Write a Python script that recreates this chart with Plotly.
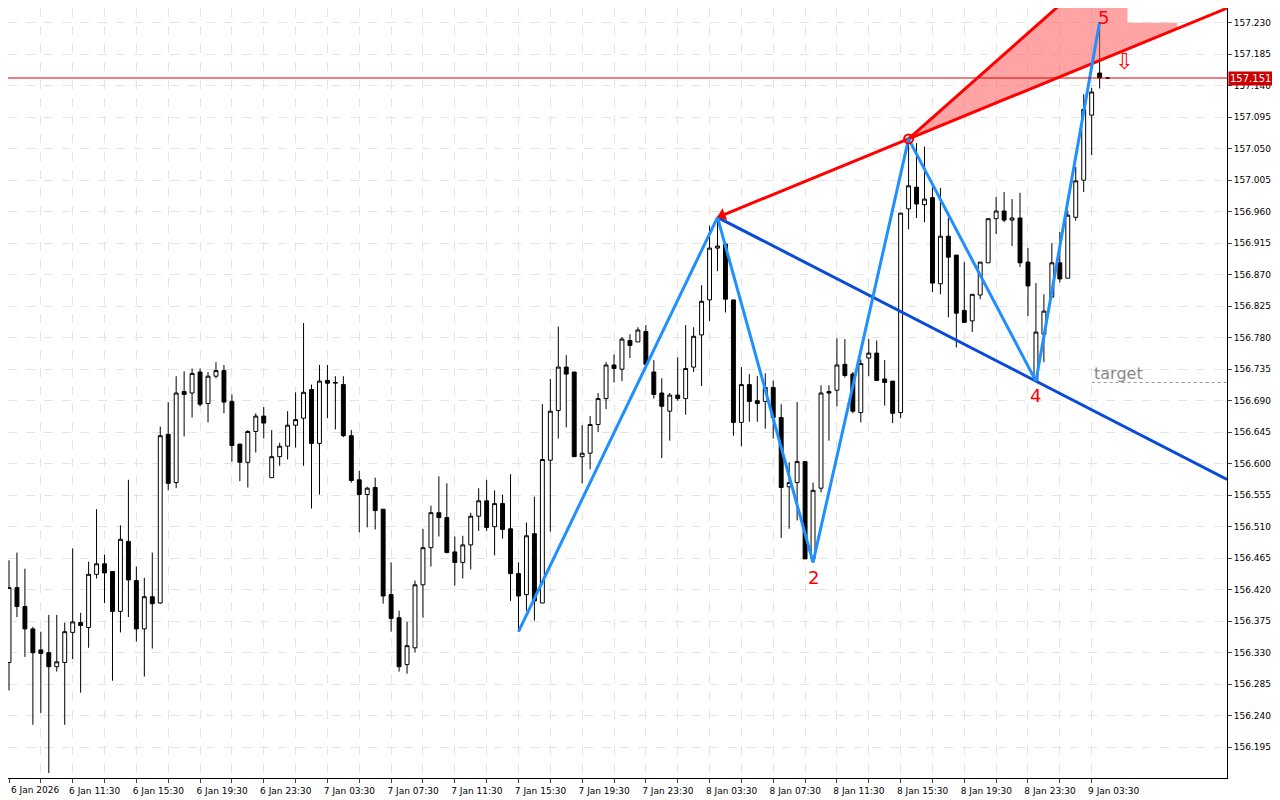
import plotly.graph_objects as go

bars = list(range(139))
opens = [156.316,156.423,156.396,156.364,156.334,156.330,156.310,156.316,156.359,156.373,
156.366,156.442,156.457,156.446,156.389,156.489,156.433,156.364,156.410,156.401,
156.642,156.573,156.703,156.701,156.731,156.686,156.725,156.733,156.689,156.628,
156.602,156.646,156.668,156.580,156.610,156.625,156.655,156.665,156.706,156.629,
156.719,156.715,156.713,156.640,156.577,156.556,156.566,156.535,156.413,156.380,
156.313,156.337,156.427,156.480,156.530,156.523,156.474,156.459,156.484,156.525,
156.547,156.510,156.543,156.507,156.443,156.413,156.500,156.401,156.605,156.676,
156.738,156.731,156.610,156.615,156.656,156.693,156.741,156.735,156.776,156.774,
156.789,156.731,156.701,156.675,156.698,156.693,156.738,156.784,156.834,156.908,
156.914,156.834,156.659,156.713,156.690,156.689,156.709,156.666,156.567,156.573,
156.603,156.464,156.565,156.703,156.705,156.742,156.728,156.673,156.751,156.758,
156.721,156.718,156.673,156.964,156.995,156.970,156.980,156.857,156.925,156.898,
156.819,156.804,156.841,156.887,156.950,156.961,156.948,156.951,156.888,156.719,
156.785,156.838,156.887,156.865,156.952,157.005,157.098,157.158,157.151]
highs = [156.462,156.473,156.450,156.367,156.360,156.384,156.384,156.373,156.479,156.387,
156.460,156.535,156.470,156.446,156.512,156.577,156.453,156.437,156.473,156.653,
156.688,156.725,156.732,156.736,156.736,156.731,156.745,156.741,156.699,156.628,
156.648,156.672,156.681,156.648,156.630,156.675,156.702,156.801,156.713,156.741,
156.741,156.725,156.725,156.648,156.590,156.567,156.580,156.535,156.459,156.390,
156.374,156.433,156.507,156.540,156.582,156.572,156.496,156.497,156.530,156.565,
156.577,156.562,156.556,156.585,156.459,156.516,156.553,156.685,156.721,156.796,
156.755,156.731,156.655,156.668,156.701,156.745,156.756,156.781,156.785,156.795,
156.798,156.748,156.722,156.701,156.752,156.798,156.795,156.855,156.940,156.952,
156.914,156.834,156.738,156.728,156.725,156.729,156.719,156.685,156.602,156.688,
156.603,156.573,156.712,156.712,156.779,156.778,156.731,156.749,156.778,156.776,
156.748,156.718,156.958,157.064,157.058,157.053,156.995,156.994,156.951,156.898,
156.888,156.842,156.888,156.950,156.981,156.988,156.978,156.987,156.908,156.858,
156.842,156.915,156.931,156.962,157.024,157.128,157.137,157.231,157.152]
lows = [156.276,156.381,156.324,156.227,156.244,156.158,156.303,156.227,156.321,156.273,
156.337,156.436,156.401,156.290,156.359,156.381,156.346,156.296,156.336,156.400,
156.562,156.565,156.639,156.666,156.682,156.659,156.722,156.672,156.603,156.575,
156.566,156.616,156.636,156.580,156.597,156.606,156.623,156.597,156.536,156.556,
156.665,156.649,156.638,156.573,156.502,156.509,156.506,156.400,156.360,156.303,
156.300,156.330,156.380,156.453,156.496,156.472,156.426,156.436,156.449,156.504,
156.504,156.469,156.493,156.404,156.360,156.390,156.376,156.401,156.503,156.636,
156.652,156.610,156.572,156.592,156.645,156.678,156.716,156.718,156.751,156.774,
156.742,156.693,156.608,156.633,156.690,156.670,156.731,156.711,156.804,156.875,
156.816,156.640,156.625,156.660,156.660,156.650,156.636,156.494,156.507,156.519,
156.464,156.459,156.559,156.633,156.682,156.723,156.672,156.659,156.725,156.718,
156.683,156.658,156.665,156.935,156.951,156.945,156.845,156.842,156.809,156.766,
156.801,156.788,156.835,156.887,156.928,156.945,156.911,156.881,156.811,156.719,
156.745,156.838,156.859,156.865,156.947,156.988,157.041,157.136,157.150]
closes = [156.423,156.396,156.364,156.330,156.329,156.310,156.317,156.360,156.374,156.369,
156.442,156.457,156.444,156.389,156.492,156.434,156.364,156.410,156.400,156.640,
156.572,156.701,156.699,156.729,156.685,156.725,156.733,156.688,156.626,156.602,
156.646,156.668,156.658,156.610,156.625,156.655,156.663,156.702,156.629,156.718,
156.715,156.716,156.640,156.576,156.556,156.565,156.533,156.411,156.379,156.310,
156.340,156.427,156.480,156.530,156.523,156.473,156.459,156.484,156.525,156.547,
156.509,156.543,156.506,156.443,156.411,156.497,156.404,156.606,156.675,156.738,
156.728,156.610,156.615,156.656,156.693,156.741,156.736,156.778,156.769,156.791,
156.742,156.699,156.682,156.698,156.693,156.736,156.782,156.832,156.908,156.911,
156.835,156.659,156.713,156.689,156.686,156.709,156.666,156.566,156.573,156.603,
156.464,156.562,156.701,156.701,156.741,156.726,156.675,156.743,156.758,156.719,
156.716,156.672,156.958,156.997,156.971,156.978,156.858,156.925,156.895,156.815,
156.802,156.842,156.888,156.950,156.961,156.948,156.951,156.887,156.854,156.788,
156.818,156.887,156.864,156.955,157.004,157.106,157.131,157.151,157.151]

tick_labels = ["6 Jan 2026","6 Jan 11:30","6 Jan 15:30","6 Jan 19:30","6 Jan 23:30",
"7 Jan 03:30","7 Jan 07:30","7 Jan 11:30","7 Jan 15:30","7 Jan 19:30","7 Jan 23:30",
"8 Jan 03:30","8 Jan 07:30","8 Jan 11:30","8 Jan 15:30","8 Jan 19:30","8 Jan 23:30","9 Jan 03:30"]
price_ticks = [156.195,156.240,156.285,156.330,156.375,156.420,156.465,156.510,156.555,156.600,
156.645,156.690,156.735,156.780,156.825,156.870,156.915,156.960,157.005,157.050,157.095,
157.140,157.185,157.230]

wave_bars = [64, 89, 101, 113, 129, 137]
wave_prices = [156.360, 156.952, 156.459, 157.064, 156.718, 157.231]
upper_fan_bars = [113, 140.5]
upper_fan_prices = [157.064, 157.341]
zone_bars = [113, 140.5, 140.5, 146.75, 146.75, 113]
zone_prices = [157.064, 157.341, 157.230, 157.230, 157.222, 157.064]
target_price = 156.716
current_price = 157.151
right_edge = 153.0

p1b, p1 = wave_bars[1], wave_prices[1]
p3b, p3 = wave_bars[3], wave_prices[3]
p4b, p4 = wave_bars[4], wave_prices[4]
red_end = p3 + (p3 - p1) / (p3b - p1b) * (right_edge - p3b)
blue_end = p4 + (p4 - p1) / (p4b - p1b) * (right_edge - p4b)

fig = go.Figure()
fig.add_trace(go.Scatter(x=zone_bars, y=zone_prices, fill="toself", mode="none",
                         fillcolor="rgba(255,90,90,0.55)", hoverinfo="skip"))
fig.add_trace(go.Candlestick(x=bars, open=opens, high=highs, low=lows, close=closes,
    increasing=dict(line=dict(color="black", width=1), fillcolor="white"),
    decreasing=dict(line=dict(color="black", width=1), fillcolor="black"),
    whiskerwidth=0))
fig.add_trace(go.Scatter(x=[p1b, right_edge], y=[p1, blue_end], mode="lines",
                         line=dict(color="#0a4ad8", width=3)))
fig.add_trace(go.Scatter(x=[p1b, right_edge], y=[p1, red_end], mode="lines",
                         line=dict(color="#ff0000", width=3)))
fig.add_trace(go.Scatter(x=upper_fan_bars, y=upper_fan_prices, mode="lines",
                         line=dict(color="#ff0000", width=3)))
fig.add_trace(go.Scatter(x=wave_bars, y=wave_prices, mode="lines",
                         line=dict(color="#1e90ff", width=3)))
fig.add_trace(go.Scatter(x=[p3b], y=[p3], mode="markers",
                         marker=dict(symbol="circle-open", size=9, color="red", line=dict(width=2))))
fig.add_trace(go.Scatter(x=[p1b + 0.6], y=[p1 + 0.003], mode="markers",
                         marker=dict(symbol="triangle-left", size=11, color="red", angle=-22)))
fig.add_trace(go.Scatter(x=[136, right_edge], y=[target_price, target_price], mode="lines",
                         line=dict(color="#999999", width=1, dash="dot")))

fig.add_hline(y=current_price, line=dict(color="#dd0000", width=1))

anns = [
    dict(x=101, y=wave_prices[2] - 0.021, text="2"),
    dict(x=129, y=wave_prices[4] - 0.021, text="4"),
    dict(x=137.5, y=wave_prices[5] + 0.006, text="5"),
]
for a in anns:
    fig.add_annotation(x=a["x"], y=a["y"], text=a["text"], showarrow=False,
                       font=dict(color="red", size=18, family="DejaVu Sans"))
fig.add_annotation(x=136, y=target_price + 0.013, text="target", showarrow=False, xanchor="left",
                   font=dict(color="#888888", size=16, family="DejaVu Sans"))
fig.add_annotation(x=140, y=157.174, text="⇩", showarrow=False,
                   font=dict(color="red", size=22, family="DejaVu Sans"))
fig.add_annotation(x=1.0, xref="paper", y=current_price, text="157.151", showarrow=False,
                   xanchor="left", bgcolor="#cc0000", borderpad=1, xshift=1,
                   font=dict(color="white", size=10, family="DejaVu Sans"))
fig.add_annotation(x=0, y=0, yref="paper", yanchor="top", xanchor="left", yshift=-5,
                   text=tick_labels[0], showarrow=False,
                   font=dict(size=9, family="DejaVu Sans", color="black"))

xt = list(range(0, 140, 4))
xtext = [tick_labels[i // 8] if (i % 8 == 0 and i > 0) else "" for i in xt]

fig.update_layout(
    width=1272, height=792, showlegend=False, plot_bgcolor="white", paper_bgcolor="white",
    margin=dict(l=0, r=53, t=0, b=22, autoexpand=False),
    xaxis=dict(range=[-0.125, right_edge], tickvals=xt, ticktext=xtext, rangeslider=dict(visible=False),
               showgrid=True, gridcolor="#e4e4e4", griddash="dash", ticks="outside", ticklen=4,
               showline=True, linecolor="black", mirror=False, zeroline=False, automargin=False,
               ticklabelshift=22, tickfont=dict(size=9, family="DejaVu Sans", color="black")),
    yaxis=dict(range=[156.151, 157.251], side="right", tickvals=price_ticks,
               ticktext=[f"{v:.3f}" for v in price_ticks], showgrid=True, gridcolor="#e4e4e4",
               griddash="dash", ticks="outside", ticklen=4, showline=True, linecolor="black",
               zeroline=False, automargin=False,
               tickfont=dict(size=9, family="DejaVu Sans", color="black")),
)
fig.write_html("out.html")
